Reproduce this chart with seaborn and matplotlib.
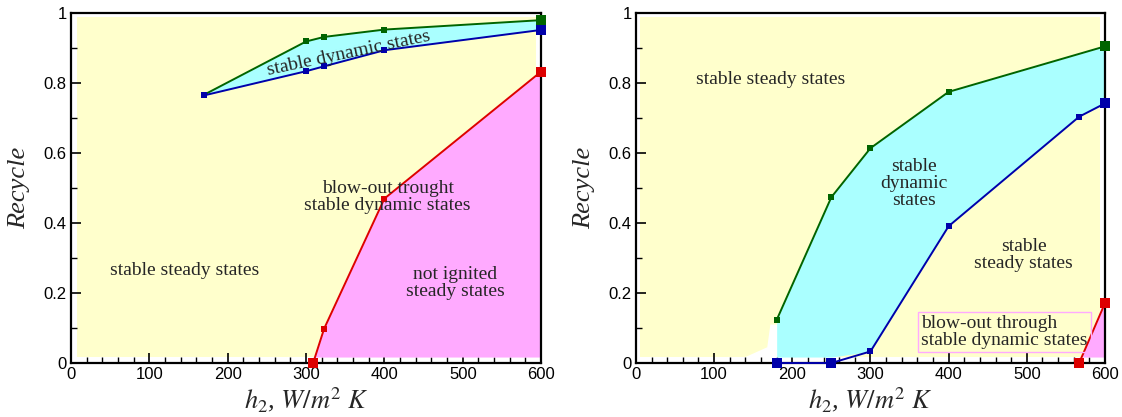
import matplotlib
matplotlib.use("Agg")
import matplotlib.pyplot as plt
import seaborn as sns
import pandas as pd
import numpy as np
from matplotlib.ticker import MultipleLocator

# === DATA ===
# left panel
l_green_x = [170, 300, 323, 400, 600]
l_green_y = [0.767, 0.919, 0.932, 0.953, 0.980]
l_blue_x = [170, 300, 323, 400, 600]
l_blue_y = [0.765, 0.834, 0.848, 0.894, 0.952]
l_red_x = [309, 323, 400, 600]
l_red_y = [0.0, 0.098, 0.470, 0.833]

# right panel
r_green_x = [180, 250, 300, 400, 600]
r_green_y = [0.123, 0.474, 0.614, 0.775, 0.905]
r_blue_x = [180, 250, 300, 400, 567, 600]
r_blue_y = [0.0, 0.0, 0.033, 0.391, 0.704, 0.742]
r_red_x = [567, 600]
r_red_y = [0.0, 0.171]

GREEN = "#006400"
BLUE = "#0000AA"
RED = "#DD0000"
YELLOW = "#FFFFCC"
CYAN = "#AAFFFF"
MAGENTA = "#FFAAFF"

sns.set_style("ticks")
plt.rcParams["font.family"] = ["Liberation Sans", "DejaVu Sans"]
plt.rcParams["mathtext.fontset"] = "stix"
plt.rcParams["axes.edgecolor"] = "black"
plt.rcParams["xtick.color"] = "black"
plt.rcParams["ytick.color"] = "black"
SERIF = "Liberation Serif"

fig = plt.figure(figsize=(11.22, 4.17), dpi=100)
ax1 = fig.add_axes([0.0633, 0.1295, 0.419, 0.839])
ax2 = fig.add_axes([0.5668, 0.1295, 0.418, 0.839])


def draw_line(ax, xs, ys, color):
    df = pd.DataFrame({"x": xs, "y": ys})
    sns.lineplot(data=df, x="x", y="y", ax=ax, color=color, sort=False,
                 lw=1.4, marker="s", markersize=4, markeredgewidth=0,
                 zorder=5, clip_on=False)
    # bigger squares at the end points lying on the frame
    ends = df[(df["y"] == 0) | (df["x"] == 600)]
    ax.scatter(ends["x"], ends["y"], marker="s", s=45, color=color,
               zorder=6, clip_on=False, linewidths=0)


def style_axes(ax):
    ax.set_xlim(0, 600)
    ax.set_ylim(0, 1)
    ax.xaxis.set_major_locator(MultipleLocator(100))
    ax.xaxis.set_minor_locator(MultipleLocator(20))
    ax.yaxis.set_minor_locator(MultipleLocator(0.1))
    ax.set_yticks([0, 0.2, 0.4, 0.6, 0.8, 1.0])
    ax.set_yticklabels(["0", "0.2", "0.4", "0.6", "0.8", "1"])
    ax.tick_params(which="major", direction="in", length=7, width=1.2,
                   labelsize=12, pad=3, top=False, right=False)
    ax.tick_params(which="minor", direction="in", length=4, width=1,
                   top=False, right=False)
    for s in ax.spines.values():
        s.set_linewidth(1.6)
        s.set_color("black")
        s.set_visible(True)
    ax.set_xlabel(r"$h_2$, $W/m^2$ $K$", fontsize=19, family=SERIF,
                  fontstyle="italic", labelpad=2)
    ax.set_ylabel("Recycle", fontsize=19, family=SERIF, fontstyle="italic",
                  labelpad=10)
    ax.set_facecolor("white")


# ---------- left panel ----------
ax = ax1
ax.fill_between([7, 594], 0.017, 0.99, color=YELLOW, lw=0, zorder=0)
ax.fill_between(l_green_x, l_blue_y, l_green_y, color=CYAN, lw=0, zorder=1)
ax.fill_between(l_red_x, 0.017, l_red_y, color=MAGENTA, lw=0, zorder=1)
draw_line(ax, l_green_x, l_green_y, GREEN)
draw_line(ax, l_blue_x, l_blue_y, BLUE)
draw_line(ax, l_red_x, l_red_y, RED)
ax.text(354, 0.886, "stable dynamic states", rotation=12, ha="center",
        va="center", fontsize=14, family=SERIF, zorder=7)
ax.text(404, 0.475, "blow-out trought\nstable dynamic states", ha="center",
        va="center", fontsize=14, family=SERIF, linespacing=1.0, zorder=7)
ax.text(145, 0.264, "stable steady states", ha="center", va="center",
        fontsize=14, family=SERIF, zorder=7)
ax.text(490, 0.23, "not ignited\nsteady states", ha="center", va="center",
        fontsize=14, family=SERIF, linespacing=1.0, zorder=7)
style_axes(ax)

# ---------- right panel ----------
ax = ax2
ax.fill_between([5, 594], 0.017, 0.99, color=YELLOW, lw=0, zorder=0)
# white notch left of the dynamic region
ax.fill([140, 168, 172, 182, 182, 140], [0.017, 0.045, 0.11, 0.11, 0.017, 0.017],
        color="white", lw=0, zorder=0.5)
bx = np.array(r_blue_x)
gy_on_b = np.interp(bx, r_green_x, r_green_y)
ax.fill_between(bx, np.maximum(r_blue_y, 0.017), gy_on_b, color=CYAN, lw=0,
                zorder=1)
ax.fill_between(r_red_x, 0.017, r_red_y, color=MAGENTA, lw=0, zorder=1)
draw_line(ax, r_green_x, r_green_y, GREEN)
draw_line(ax, r_blue_x, r_blue_y, BLUE)
draw_line(ax, r_red_x, r_red_y, RED)
ax.text(172, 0.811, "stable steady states", ha="center", va="center",
        fontsize=14, family=SERIF, zorder=7)
ax.text(356, 0.512, "stable\ndynamic\nstates", ha="center", va="center",
        fontsize=14, family=SERIF, linespacing=1.0, zorder=7)
ax.text(496, 0.308, "stable\nsteady states", ha="center", va="center",
        fontsize=14, family=SERIF, linespacing=1.0, zorder=7)
ax.text(365, 0.089, "blow-out through\nstable dynamic states", ha="left",
        va="center", fontsize=14, family=SERIF, linespacing=1.0, zorder=7,
        bbox=dict(boxstyle="square,pad=0.15", fc="none", ec="#FFAAFF", lw=1))
style_axes(ax)

fig.savefig("out.png", dpi=100)
